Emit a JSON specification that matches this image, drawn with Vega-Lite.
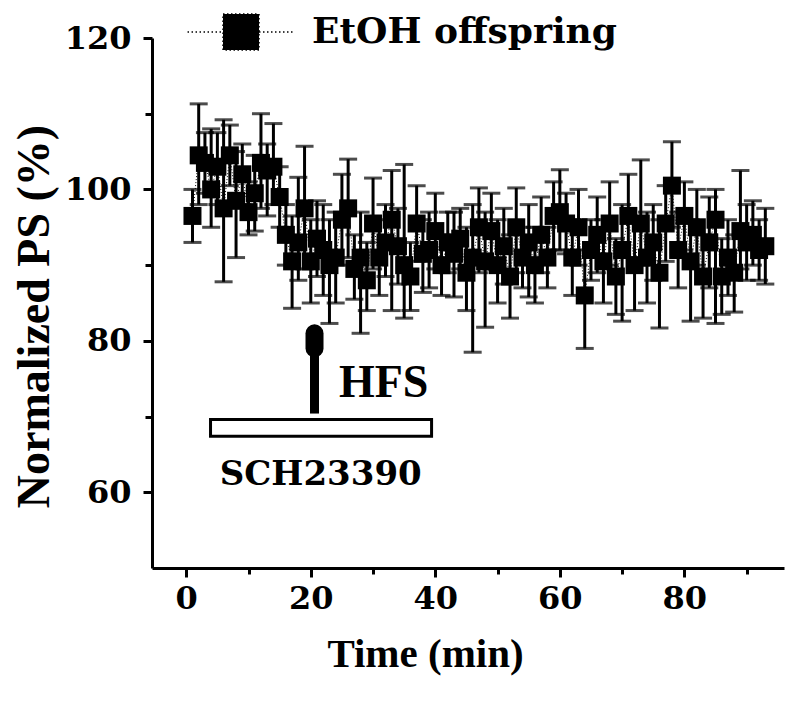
{
  "$schema": "https://vega.github.io/schema/vega-lite/v6.json",
  "width": 632,
  "height": 530,
  "autosize": {"type": "none"},
  "padding": {"left": 152, "top": 38, "right": 12, "bottom": 141},
  "background": "white",
  "config": {"view": {"stroke": null}, "axis": {"grid": false}},
  "datasets": {
    "pts": [
      {"t":1,"v":96.5,"lo":93,"hi":100,"g":"EtOH offspring"},
      {"t":2,"v":104.5,"lo":98,"hi":111.3,"g":"EtOH offspring"},
      {"t":3,"v":103.5,"lo":99.5,"hi":107.5,"g":"EtOH offspring"},
      {"t":4,"v":100,"lo":95,"hi":108,"g":"EtOH offspring"},
      {"t":5,"v":103,"lo":98,"hi":107.5,"g":"EtOH offspring"},
      {"t":6,"v":97.5,"lo":87.8,"hi":109.2,"g":"EtOH offspring"},
      {"t":7,"v":104.5,"lo":100.5,"hi":108.5,"g":"EtOH offspring"},
      {"t":8,"v":98.5,"lo":91,"hi":105,"g":"EtOH offspring"},
      {"t":9,"v":102,"lo":98,"hi":106,"g":"EtOH offspring"},
      {"t":10,"v":97,"lo":94,"hi":101,"g":"EtOH offspring"},
      {"t":11,"v":99.5,"lo":94.5,"hi":104.5,"g":"EtOH offspring"},
      {"t":12,"v":103.5,"lo":97.5,"hi":110,"g":"EtOH offspring"},
      {"t":13,"v":102.5,"lo":96.5,"hi":106,"g":"EtOH offspring"},
      {"t":14,"v":103,"lo":98,"hi":108.7,"g":"EtOH offspring"},
      {"t":15,"v":99,"lo":95,"hi":103,"g":"EtOH offspring"},
      {"t":16,"v":94,"lo":90,"hi":98,"g":"EtOH offspring"},
      {"t":17,"v":90.5,"lo":84.3,"hi":96.5,"g":"EtOH offspring"},
      {"t":18,"v":93,"lo":88,"hi":101.6,"g":"EtOH offspring"},
      {"t":19,"v":97.5,"lo":89.5,"hi":105.7,"g":"EtOH offspring"},
      {"t":20,"v":90.5,"lo":85,"hi":96,"g":"EtOH offspring"},
      {"t":21,"v":93.5,"lo":88.5,"hi":98.5,"g":"EtOH offspring"},
      {"t":22,"v":92,"lo":86,"hi":98,"g":"EtOH offspring"},
      {"t":23,"v":90,"lo":82.3,"hi":96,"g":"EtOH offspring"},
      {"t":24,"v":91,"lo":85,"hi":97,"g":"EtOH offspring"},
      {"t":25,"v":96,"lo":90,"hi":102,"g":"EtOH offspring"},
      {"t":26,"v":97.5,"lo":91,"hi":104,"g":"EtOH offspring"},
      {"t":27,"v":89.5,"lo":85.5,"hi":94,"g":"EtOH offspring"},
      {"t":28,"v":91,"lo":81,"hi":97,"g":"EtOH offspring"},
      {"t":29,"v":88,"lo":84,"hi":93,"g":"EtOH offspring"},
      {"t":30,"v":95.5,"lo":89.5,"hi":101.5,"g":"EtOH offspring"},
      {"t":31,"v":91,"lo":86,"hi":96,"g":"EtOH offspring"},
      {"t":32,"v":93,"lo":88.5,"hi":98,"g":"EtOH offspring"},
      {"t":33,"v":96,"lo":84,"hi":102.5,"g":"EtOH offspring"},
      {"t":34,"v":92.5,"lo":87.5,"hi":97.5,"g":"EtOH offspring"},
      {"t":35,"v":90,"lo":83,"hi":103.3,"g":"EtOH offspring"},
      {"t":36,"v":88.5,"lo":84,"hi":93,"g":"EtOH offspring"},
      {"t":37,"v":95.5,"lo":90.5,"hi":100.5,"g":"EtOH offspring"},
      {"t":38,"v":91.5,"lo":86.4,"hi":96,"g":"EtOH offspring"},
      {"t":39,"v":92,"lo":87,"hi":97,"g":"EtOH offspring"},
      {"t":40,"v":94.5,"lo":89.5,"hi":99.5,"g":"EtOH offspring"},
      {"t":41,"v":90,"lo":86,"hi":94,"g":"EtOH offspring"},
      {"t":42,"v":93,"lo":89,"hi":97,"g":"EtOH offspring"},
      {"t":43,"v":91.5,"lo":85.8,"hi":97,"g":"EtOH offspring"},
      {"t":44,"v":93.5,"lo":89.5,"hi":97.5,"g":"EtOH offspring"},
      {"t":45,"v":89,"lo":84,"hi":95,"g":"EtOH offspring"},
      {"t":46,"v":91,"lo":78.5,"hi":98,"g":"EtOH offspring"},
      {"t":47,"v":95,"lo":89,"hi":100.2,"g":"EtOH offspring"},
      {"t":48,"v":90.5,"lo":81.8,"hi":97,"g":"EtOH offspring"},
      {"t":49,"v":94.5,"lo":89.5,"hi":99.5,"g":"EtOH offspring"},
      {"t":50,"v":90,"lo":85,"hi":96,"g":"EtOH offspring"},
      {"t":51,"v":92.5,"lo":87.5,"hi":97.5,"g":"EtOH offspring"},
      {"t":52,"v":88.5,"lo":83,"hi":94,"g":"EtOH offspring"},
      {"t":53,"v":95,"lo":89,"hi":100.2,"g":"EtOH offspring"},
      {"t":54,"v":91,"lo":87,"hi":95,"g":"EtOH offspring"},
      {"t":55,"v":93,"lo":85.8,"hi":98,"g":"EtOH offspring"},
      {"t":56,"v":90,"lo":85,"hi":95,"g":"EtOH offspring"},
      {"t":57,"v":94,"lo":89,"hi":99,"g":"EtOH offspring"},
      {"t":58,"v":91,"lo":87,"hi":95,"g":"EtOH offspring"},
      {"t":59,"v":96.5,"lo":92,"hi":101,"g":"EtOH offspring"},
      {"t":60,"v":97,"lo":92,"hi":102.6,"g":"EtOH offspring"},
      {"t":61,"v":95.5,"lo":91.5,"hi":99.5,"g":"EtOH offspring"},
      {"t":62,"v":91,"lo":86,"hi":96,"g":"EtOH offspring"},
      {"t":63,"v":95,"lo":90,"hi":100,"g":"EtOH offspring"},
      {"t":64,"v":86,"lo":79,"hi":92,"g":"EtOH offspring"},
      {"t":65,"v":92,"lo":88,"hi":96,"g":"EtOH offspring"},
      {"t":66,"v":94,"lo":89,"hi":99,"g":"EtOH offspring"},
      {"t":67,"v":90.5,"lo":85,"hi":96,"g":"EtOH offspring"},
      {"t":68,"v":95.5,"lo":90,"hi":101,"g":"EtOH offspring"},
      {"t":69,"v":88.5,"lo":83.5,"hi":93.5,"g":"EtOH offspring"},
      {"t":70,"v":92,"lo":82.6,"hi":98,"g":"EtOH offspring"},
      {"t":71,"v":96.5,"lo":91,"hi":102,"g":"EtOH offspring"},
      {"t":72,"v":90,"lo":84,"hi":96,"g":"EtOH offspring"},
      {"t":73,"v":95.5,"lo":90,"hi":103.9,"g":"EtOH offspring"},
      {"t":74,"v":91,"lo":85,"hi":97,"g":"EtOH offspring"},
      {"t":75,"v":93,"lo":88,"hi":98,"g":"EtOH offspring"},
      {"t":76,"v":89,"lo":81.7,"hi":96,"g":"EtOH offspring"},
      {"t":77,"v":95.5,"lo":90.5,"hi":100.5,"g":"EtOH offspring"},
      {"t":78,"v":100.5,"lo":95,"hi":106.3,"g":"EtOH offspring"},
      {"t":79,"v":92,"lo":87,"hi":97,"g":"EtOH offspring"},
      {"t":80,"v":96.5,"lo":92,"hi":101,"g":"EtOH offspring"},
      {"t":81,"v":90.5,"lo":82.6,"hi":96,"g":"EtOH offspring"},
      {"t":82,"v":95,"lo":90,"hi":100,"g":"EtOH offspring"},
      {"t":83,"v":88.5,"lo":83,"hi":94,"g":"EtOH offspring"},
      {"t":84,"v":93,"lo":87,"hi":99,"g":"EtOH offspring"},
      {"t":85,"v":96,"lo":82.3,"hi":100,"g":"EtOH offspring"},
      {"t":86,"v":88.5,"lo":83.5,"hi":93.5,"g":"EtOH offspring"},
      {"t":87,"v":91,"lo":86,"hi":96,"g":"EtOH offspring"},
      {"t":88,"v":89,"lo":83.8,"hi":94,"g":"EtOH offspring"},
      {"t":89,"v":94.5,"lo":89.5,"hi":102.5,"g":"EtOH offspring"},
      {"t":90,"v":93,"lo":88,"hi":98,"g":"EtOH offspring"},
      {"t":91,"v":94,"lo":90,"hi":98.5,"g":"EtOH offspring"},
      {"t":92,"v":92,"lo":88,"hi":96,"g":"EtOH offspring"},
      {"t":93,"v":92.5,"lo":87.5,"hi":97.5,"g":"EtOH offspring"}
    ],
    "bar": [{"t1": 3.9, "t2": 39.4, "v1": 67.4, "v2": 69.6}],
    "shaft": [{"t": 20.6, "v1": 70.4, "v2": 80}],
    "head": [{"t": 20.6, "v1": 79.0, "v2": 81.0}],
    "hfs": [{"t": 31.7, "v": 74.4, "label": "HFS"}],
    "sch": [{"t": 21.6, "v": 62.3, "label": "SCH23390"}]
  },
  "resolve": {"axis": {"x": "independent", "y": "independent"}},
  "layer": [
    {
      "encoding": {
        "x": {"field": "t", "type": "quantitative",
          "scale": {"domain": [-5.5, 96], "nice": false, "zero": false},
          "axis": {"values": [0, 20, 40, 60, 80], "title": "Time (min)", "orient": "bottom",
            "domainWidth": 3, "domainColor": "black", "tickWidth": 3, "tickColor": "black", "tickSize": 9,
            "labelFont": "DejaVu Serif", "labelFontWeight": "bold", "labelFontSize": 32, "labelColor": "black", "labelPadding": 6,
            "titleFont": "Liberation Serif", "titleFontWeight": "bold", "titleFontSize": 41, "titleColor": "black", "titlePadding": 20,
            "titleX": 273, "titleAlign": "center"}},
        "y": {"field": "v", "type": "quantitative",
          "scale": {"domain": [50, 120], "nice": false, "zero": false},
          "axis": {"values": [60, 80, 100, 120], "title": "Normalized PS (%)", "orient": "left",
            "domainWidth": 3, "domainColor": "black", "tickWidth": 3, "tickColor": "black", "tickSize": 9,
            "labelFont": "DejaVu Serif", "labelFontWeight": "bold", "labelFontSize": 32, "labelColor": "black", "labelPadding": 12,
            "titleFont": "Liberation Serif", "titleFontWeight": "bold", "titleFontSize": 46, "titleColor": "black", "titlePadding": 6,
            "titleY": 278, "titleAlign": "center"}}
      },
      "layer": [
        {"data": {"name": "pts"},
         "mark": {"type": "line", "color": "black", "strokeWidth": 1, "strokeDash": [1, 2]}},
        {"data": {"name": "pts"},
         "mark": {"type": "rule", "color": "black", "strokeWidth": 3},
         "encoding": {"y": {"field": "lo", "type": "quantitative"}, "y2": {"field": "hi"}}},
        {"data": {"name": "pts"},
         "mark": {"type": "tick", "orient": "horizontal", "color": "black", "size": 18, "thickness": 3},
         "encoding": {"y": {"field": "lo", "type": "quantitative"}}},
        {"data": {"name": "pts"},
         "mark": {"type": "tick", "orient": "horizontal", "color": "black", "size": 18, "thickness": 3},
         "encoding": {"y": {"field": "hi", "type": "quantitative"}}},
        {"data": {"name": "pts"},
         "mark": {"type": "point", "shape": "square", "filled": true, "size": 324, "opacity": 1},
         "encoding": {"color": {"field": "g", "type": "nominal", "scale": {"range": ["black"]},
           "legend": {"orient": "none", "legendX": 70, "legendY": -25, "title": null, "padding": 0,
             "symbolType": "M-2.97,0H-1M1,0H2.97M-1,-1H1V1H-1Z", "symbolSize": 1296,
             "symbolStrokeWidth": 1.5, "symbolStrokeColor": "black", "symbolFillColor": "black", "symbolDash": [1.5, 2.5],
             "labelOffset": 52, "labelLimit": 600,
             "labelFont": "DejaVu Serif", "labelFontWeight": "bold", "labelFontSize": 36, "labelColor": "black",
             "encode": {"symbols": {"update": {"stroke": {"value": "black"}, "fill": {"value": "black"}, "strokeWidth": {"value": 1.5}, "strokeDash": {"value": [1.5, 2.5]}, "opacity": {"value": 1}}}}}}}},
        {"data": {"name": "bar"},
         "mark": {"type": "rect", "fill": "white", "stroke": "black", "strokeWidth": 3},
         "encoding": {"x": {"field": "t1", "type": "quantitative"}, "x2": {"field": "t2"},
                      "y": {"field": "v1", "type": "quantitative"}, "y2": {"field": "v2"}}},
        {"data": {"name": "shaft"},
         "mark": {"type": "rule", "color": "black", "strokeWidth": 9},
         "encoding": {"y": {"field": "v1", "type": "quantitative"}, "y2": {"field": "v2"}}},
        {"data": {"name": "head"},
         "mark": {"type": "rule", "color": "black", "strokeWidth": 18, "strokeCap": "round"},
         "encoding": {"y": {"field": "v1", "type": "quantitative"}, "y2": {"field": "v2"}}},
        {"data": {"name": "hfs"},
         "mark": {"type": "text", "font": "Liberation Serif", "fontWeight": "bold", "fontSize": 46, "color": "black", "align": "center", "baseline": "middle"},
         "encoding": {"text": {"field": "label"}}},
        {"data": {"name": "sch"},
         "mark": {"type": "text", "font": "DejaVu Serif", "fontWeight": "bold", "fontSize": 34, "color": "black", "align": "center", "baseline": "middle"},
         "encoding": {"text": {"field": "label"}}}
      ]
    },
    {
      "data": {"name": "pts"},
      "mark": {"type": "point", "opacity": 0},
      "encoding": {
        "x": {"field": "t", "type": "quantitative",
          "axis": {"values": [10, 30, 50, 70, 90], "orient": "bottom", "labels": false, "domain": false, "title": null,
            "tickSize": 6, "tickWidth": 3, "tickColor": "black"}},
        "y": {"field": "v", "type": "quantitative",
          "axis": {"values": [70, 90, 110], "orient": "left", "labels": false, "domain": false, "title": null,
            "tickSize": 7, "tickWidth": 3, "tickColor": "black"}}
      }
    }
  ]
}
